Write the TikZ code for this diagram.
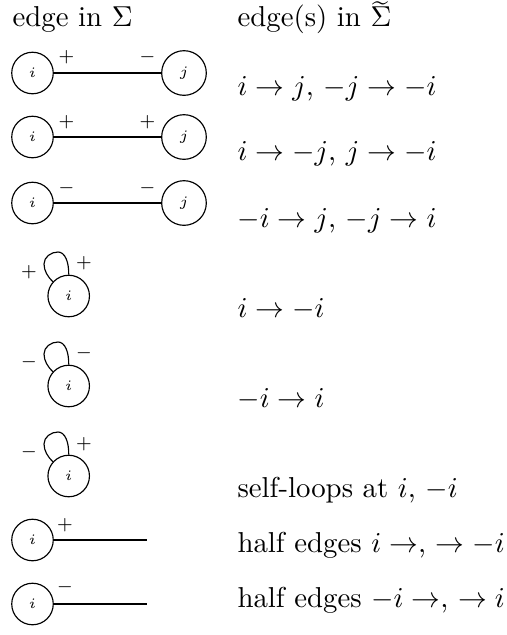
\documentclass[tikz,border=0pt]{standalone}
\newcommand\selfloop[1]{%
  \draw[edg,shift={(#1.center)}] (#1.90) .. controls (0.3,-34) and (-3.7,-44) .. (-10.7,-44)
    .. controls (-17.7,-44) and (-24.7,-39) .. (-24.7,-32)
    .. controls (-24.7,-25) and (-20.7,-19) .. (#1.138);}
\begin{document}
\begin{tikzpicture}[x=0.3472pt,y=-0.3472pt,
  vtx/.style={circle,draw,line width=0.4pt,inner sep=3.6pt,font=\tiny},
  sgn/.style={inner sep=0pt,font=\fontsize{6}{7}\selectfont},
  txt/.style={anchor=base west,inner sep=0pt},
  edg/.style={line width=0.4pt}]
\useasboundingbox (0,0) rectangle (507,635);
% headers
\node[txt] (h1) at (12,26) {edge in $\Sigma$};
\node[txt] (h2) at (237,26) {edge(s) in \rlap{\raisebox{-1.3pt}{$\widetilde{\phantom{\Sigma}}$}}$\Sigma$};
% row 1
\node[vtx] (a1) at (32.5,73) {$i$};
\node[vtx] (b1) at (184,73) {$j$};
\draw[edg] (a1) -- (b1);
\node[sgn] (p1) at (66.5,57.5) {$+$};
\node[sgn] (q1) at (147.5,57.5) {$-$};
\node[txt] (t1) at (237,95) {$i\to j$, $-j\to -i$};
% row 2
\node[vtx] (a2) at (32.5,137) {$i$};
\node[vtx] (b2) at (184,137) {$j$};
\draw[edg] (a2) -- (b2);
\node[sgn] (p2) at (66.5,122) {$+$};
\node[sgn] (q2) at (147.5,122) {$+$};
\node[txt] (t2) at (237,160) {$i\to -j$, $j\to -i$};
% row 3
\node[vtx] (a3) at (32.5,203) {$i$};
\node[vtx] (b3) at (184,203) {$j$};
\draw[edg] (a3) -- (b3);
\node[sgn] (p3) at (66.5,188) {$-$};
\node[sgn] (q3) at (147.5,188) {$-$};
\node[txt] (t3) at (237,227) {$-i\to j$, $-j\to i$};
% row 4
\node[vtx] (a4) at (68.7,296) {$i$};
\selfloop{a4}
\node[sgn] (p4) at (29,272) {$+$};
\node[sgn] (q4) at (84,263) {$+$};
\node[txt] (t4) at (237,317) {$i\to -i$};
% row 5
\node[vtx] (a5) at (68.7,386) {$i$};
\selfloop{a5}
\node[sgn] (p5) at (29,362) {$-$};
\node[sgn] (q5) at (84,353) {$-$};
\node[txt] (t5) at (237,407) {$-i\to i$};
% row 6
\node[vtx] (a6) at (68.7,476) {$i$};
\selfloop{a6}
\node[sgn] (p6) at (29,452) {$-$};
\node[sgn] (q6) at (84,444) {$+$};
\node[txt] (t6) at (237,497) {self-loops at $i$, $-i$};
% row 7
\node[vtx] (a7) at (32.5,540) {$i$};
\coordinate (e7) at (146.7,540);
\draw[edg] (a7) -- (e7);
\node[sgn] (p7) at (65,525) {$+$};
\node[txt] (t7) at (237,552) {half edges $i\to$, $\to -i$};
% row 8
\node[vtx] (a8) at (32.5,604) {$i$};
\coordinate (e8) at (146.7,604);
\draw[edg] (a8) -- (e8);
\node[sgn] (p8) at (65,587) {$-$};
\node[txt] (t8) at (237,607) {half edges $-i\to$, $\to i$};
\end{tikzpicture}
\end{document}
